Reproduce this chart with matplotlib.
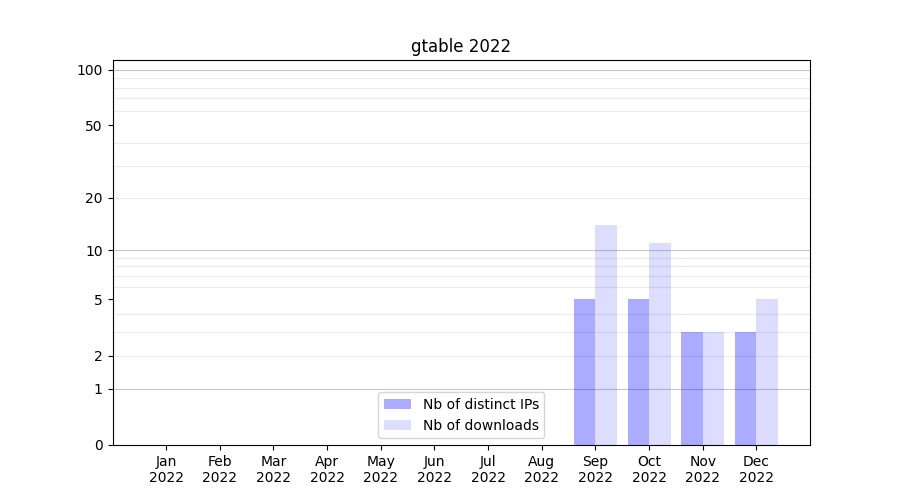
import numpy as np
import matplotlib
matplotlib.use("Agg")
import matplotlib.pyplot as plt

months = ["Jan", "Feb", "Mar", "Apr", "May", "Jun",
          "Jul", "Aug", "Sep", "Oct", "Nov", "Dec"]
year = "2022"
distinct_ips = [0, 0, 0, 0, 0, 0, 0, 0, 5, 5, 3, 3]
downloads = [0, 0, 0, 0, 0, 0, 0, 0, 14, 11, 3, 5]

major_ticks = [0, 1, 2, 5, 10, 20, 50, 100]
dark_grid = [1, 10, 100]
light_grid = [2, 3, 4, 6, 7, 8, 9, 20, 30, 40, 60, 70, 80, 90]


def forward(y):
    return np.log10(np.asarray(y, dtype=float) + 1)


def inverse(y):
    return 10 ** np.asarray(y, dtype=float) - 1


fig, ax = plt.subplots(figsize=(9, 5), dpi=100)
x = np.arange(len(months))
w = 0.4

ax.bar(x - w / 2, distinct_ips, width=w, color="blue", alpha=0.33,
       label="Nb of distinct IPs", zorder=2)
ax.bar(x + w / 2, downloads, width=w, color="blue", alpha=0.135,
       label="Nb of downloads", zorder=2)

ax.set_yscale("function", functions=(forward, inverse))
ax.set_ylim(0, 113)
ax.set_xlim(-1, 12)

for v in light_grid:
    ax.axhline(v, color="#ebebeb", lw=0.8, zorder=0)
for v in dark_grid:
    ax.axhline(v, color="#c8c8c8", lw=0.8, zorder=0)

ax.set_yticks(major_ticks)
ax.set_yticklabels([str(t) for t in major_ticks])
ax.minorticks_off()
ax.set_xticks(x)
ax.set_xticklabels([f"{m}\n{year}" for m in months])

ax.set_title("gtable 2022")
ax.legend(loc="lower center")

fig.savefig("out.png", dpi=100)
